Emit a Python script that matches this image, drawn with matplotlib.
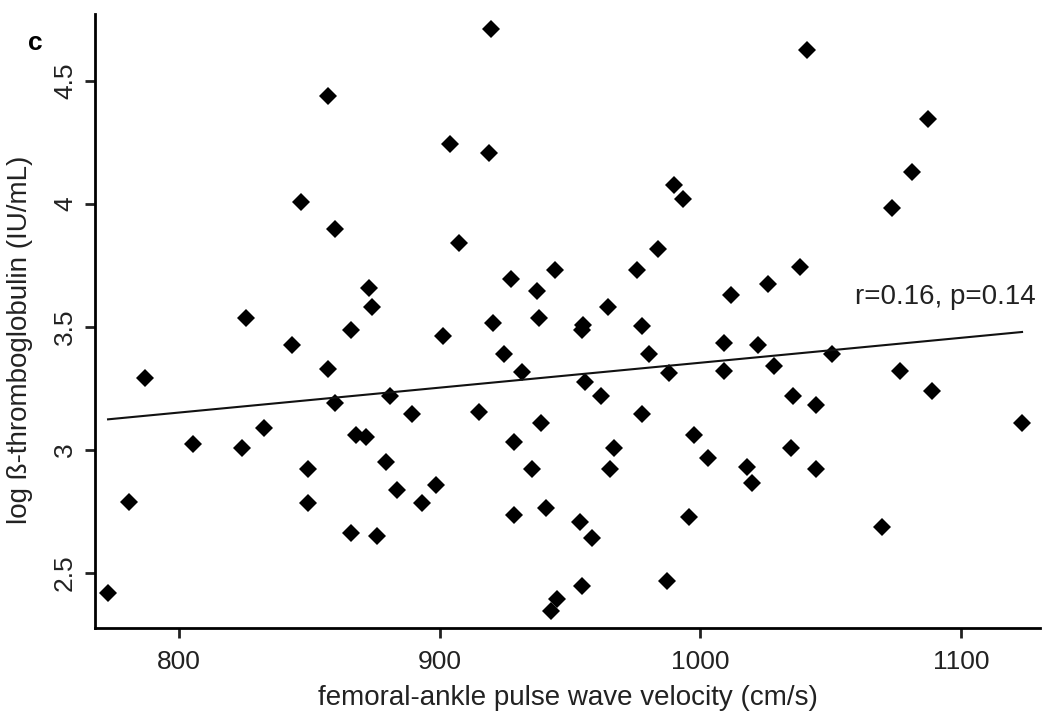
import numpy as np
import matplotlib.pyplot as plt

plt.rcParams['font.family'] = ['Liberation Sans', 'DejaVu Sans']

# femoral-ankle PWV (cm/s) and log beta-thromboglobulin
pwv = np.array([772.8, 780.8, 787.0, 805.4, 824.2, 825.7, 832.6, 843.3, 846.8, 849.5,
                849.5, 857.2, 857.2, 859.8, 859.8, 866.0, 866.0, 867.9, 871.7, 872.9,
                874.0, 876.0, 879.4, 880.9, 883.6, 889.4, 893.2, 898.6, 901.3, 904.0,
                907.4, 915.1, 918.9, 919.7, 920.4, 924.7, 927.3, 928.5, 928.5, 931.6,
                935.4, 937.3, 938.1, 938.9, 940.8, 944.2, 942.7, 945.0, 953.8, 955.0,
                954.6, 954.6, 955.7, 958.4, 961.9, 964.6, 965.3, 966.9, 975.7, 977.6,
                977.6, 980.3, 983.7, 988.0, 987.2, 989.9, 993.3, 995.6, 997.5, 1002.9,
                1009.1, 1009.1, 1011.7, 1017.9, 1019.8, 1022.1, 1025.9, 1028.2, 1034.8, 1035.5,
                1038.2, 1040.9, 1044.3, 1044.3, 1050.5, 1069.7, 1073.5, 1076.6, 1081.2, 1087.3,
                1088.8, 1123.4])
btg = np.array([2.419, 2.789, 3.293, 3.024, 3.008, 3.537, 3.089, 3.427, 4.008, 2.923,
                2.785, 3.329, 4.439, 3.898, 3.191, 2.663, 3.488, 3.061, 3.053, 3.659,
                3.581, 2.650, 2.951, 3.220, 2.837, 3.146, 2.785, 2.858, 3.463, 4.244,
                3.841, 3.154, 4.207, 4.711, 3.516, 3.390, 3.695, 3.033, 2.736, 3.317,
                2.923, 3.646, 3.537, 3.110, 2.764, 3.732, 2.346, 2.394, 2.707, 3.508,
                3.488, 2.447, 3.276, 2.642, 3.220, 3.581, 2.923, 3.008, 3.732, 3.504,
                3.146, 3.390, 3.817, 3.313, 2.467, 4.077, 4.020, 2.728, 3.061, 2.967,
                3.435, 3.321, 3.630, 2.931, 2.866, 3.427, 3.675, 3.341, 3.008, 3.220,
                3.744, 4.626, 3.183, 2.923, 3.390, 2.687, 3.984, 3.321, 4.130, 4.346,
                3.240, 3.110])

xticks = [800, 900, 1000, 1100]
yticks = [2.5, 3, 3.5, 4, 4.5]
ytick_labels = ['2.5', '3', '3.5', '4', '4.5']
stats_text = 'r=0.16, p=0.14'

fig = plt.figure(figsize=(10.5, 7.22), dpi=100)
ax = fig.add_axes([0.0905, 0.1302, 0.9, 0.8504])

ax.plot(pwv, btg, 'D', color='black', markersize=9.2, markeredgewidth=0)

slope, icpt = np.polyfit(pwv, btg, 1)
xl = np.array([pwv.min(), pwv.max()])
ax.plot(xl, icpt + slope * xl, color='#111111', lw=1.5)

ax.set_xlim(767.8, 1130.3)
ax.set_ylim(2.276, 4.772)
ax.set_xticks(xticks)
ax.set_yticks(yticks)
ax.set_yticklabels(ytick_labels, rotation=90, va='center')

for s in ['top', 'right']:
    ax.spines[s].set_visible(False)
for s in ['left', 'bottom']:
    ax.spines[s].set_linewidth(2)
ax.tick_params(direction='out', length=7, width=2, labelsize=19, colors='#222222', pad=6)
ax.tick_params(axis='x', pad=9)

ax.set_xlabel('femoral-ankle pulse wave velocity (cm/s)', fontsize=20, color='#222222', labelpad=8)
ax.set_ylabel('log ß-thromboglobulin (IU/mL)', fontsize=20, color='#222222')
ax.yaxis.set_label_coords(-0.066, 0.469)

ax.text(1059.3, 3.622, stats_text, fontsize=20, color='#222222', va='center', ha='left')
fig.text(35 / 1050, 1 - 43 / 722, 'c', fontsize=19, fontweight='bold', va='center', ha='center')

fig.savefig('out.png', dpi=100)
